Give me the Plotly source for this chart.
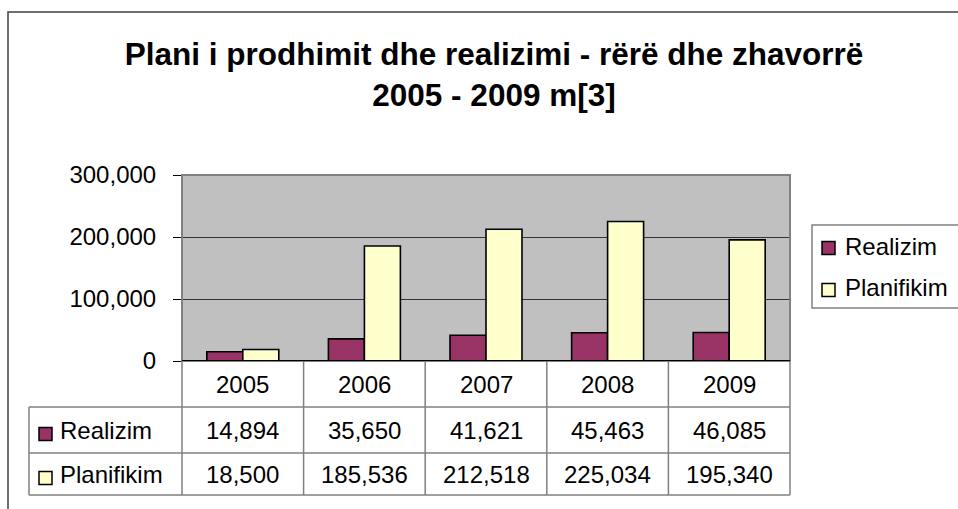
import plotly.graph_objects as go

W, H = 958, 509

categories = ["2005", "2006", "2007", "2008", "2009"]
series_names = ["Realizim", "Planifikim"]
realizim = [14894, 35650, 41621, 45463, 46085]
planifikim = [18500, 185536, 212518, 225034, 195340]
series_values = [realizim, planifikim]
series_colors = ["#993366", "#FFFFCC"]
y_ticks = [0, 100000, 200000, 300000]

title_lines = ["Plani i prodhimit dhe realizimi - rërë dhe zhavorrë", "2005 - 2009 m[3]"]

FONT = "Arial, Liberation Sans, sans-serif"
FS = 24


def px(x):
    return x / W


def py(y):
    return 1 - y / H


# plot area in pixels
PL, PR, PT, PB = 182, 790, 175, 361
# table rows (pixel y)
ROW_Y = [361, 407, 453, 495]
TABLE_LEFT = 29

fig = go.Figure()
for name, vals, col in zip(series_names, series_values, series_colors):
    fig.add_trace(go.Bar(
        x=categories, y=vals, name=name, showlegend=False,
        marker=dict(color=col, line=dict(color="black", width=1.6)),
        hoverinfo="x+y+name",
    ))

shapes = []
annotations = []

# plot area border
shapes.append(dict(type="rect", xref="x domain", yref="y domain", x0=0, x1=1, y0=0, y1=1,
                   line=dict(color="#808080", width=2), layer="above"))
# zero (category) axis line
shapes.append(dict(type="line", xref="x domain", yref="y", x0=0, x1=1, y0=0, y1=0,
                   line=dict(color="black", width=2), layer="above"))

table_line = dict(color="#808080", width=1.5)
for yy in ROW_Y[1:]:
    shapes.append(dict(type="line", xref="paper", yref="paper", x0=px(TABLE_LEFT), x1=px(PR),
                       y0=py(yy), y1=py(yy), line=table_line))
n = len(categories)
for k in range(n + 1):
    if k == 0 or k == n:
        shapes.append(dict(type="line", xref="x domain", yref="paper", x0=k / n, x1=k / n,
                           y0=py(ROW_Y[0]), y1=py(ROW_Y[-1]), line=table_line))
    else:
        shapes.append(dict(type="line", xref="x", yref="paper", x0=k - 0.5, x1=k - 0.5,
                           y0=py(ROW_Y[0]), y1=py(ROW_Y[-1]), line=table_line))
shapes.append(dict(type="line", xref="paper", yref="paper", x0=px(TABLE_LEFT), x1=px(TABLE_LEFT),
                   y0=py(ROW_Y[1]), y1=py(ROW_Y[-1]), line=table_line))

for i, c in enumerate(categories):
    annotations.append(dict(xref="x", yref="paper", x=i, y=py((ROW_Y[0] + ROW_Y[1]) / 2),
                            text=c, showarrow=False, font=dict(family=FONT, size=FS, color="black"),
                            xanchor="center", yanchor="middle"))
for r, (name, vals, col) in enumerate(zip(series_names, series_values, series_colors)):
    yc = (ROW_Y[r + 1] + ROW_Y[r + 2]) / 2
    for i, v in enumerate(vals):
        annotations.append(dict(xref="x", yref="paper", x=i, y=py(yc), text=f"{v:,}",
                                showarrow=False, font=dict(family=FONT, size=FS, color="black"),
                                xanchor="center", yanchor="middle"))
    shapes.append(dict(type="rect", xref="paper", yref="paper", x0=px(39), x1=px(52),
                       y0=py(yc + 4 - 6.5), y1=py(yc + 4 + 6.5), fillcolor=col,
                       line=dict(color="black", width=1.5)))
    annotations.append(dict(xref="paper", yref="paper", x=px(58), y=py(yc), text=name,
                            showarrow=False, font=dict(family=FONT, size=FS, color="black"),
                            xanchor="left", yanchor="middle"))

# legend (box, keys, labels)
LEG_L, LEG_T, LEG_B = 812, 225, 308
shapes.append(dict(type="rect", xref="paper", yref="paper", x0=px(LEG_L), x1=px(975),
                   y0=py(LEG_B), y1=py(LEG_T), fillcolor="white",
                   line=dict(color="#808080", width=1.5)))
leg_text_y = [246, 287]
leg_key_y = [248, 290]
for name, col, ty, ky in zip(series_names, series_colors, leg_text_y, leg_key_y):
    shapes.append(dict(type="rect", xref="paper", yref="paper", x0=px(822), x1=px(835),
                       y0=py(ky + 6.5), y1=py(ky - 6.5), fillcolor=col,
                       line=dict(color="black", width=1.5)))
    annotations.append(dict(xref="paper", yref="paper", x=px(843), y=py(ty), text=name,
                            showarrow=False, font=dict(family=FONT, size=FS, color="black"),
                            xanchor="left", yanchor="middle"))

# outer chart border (left and top edges visible)
shapes.append(dict(type="path", xref="paper", yref="paper",
                   path=f"M {px(8)},{py(520)} L {px(8)},{py(12)} L {px(970)},{py(12)}",
                   line=dict(color="#404040", width=1.5)))

fig.update_layout(
    width=W, height=H,
    autosize=False,
    showlegend=False,
    margin=dict(l=0, r=0, t=0, b=0, pad=0, autoexpand=False),
    paper_bgcolor="white",
    plot_bgcolor="#C0C0C0",
    font=dict(family=FONT, size=FS, color="black"),
    title=dict(text="<b>" + title_lines[0] + "<br>" + title_lines[1] + "</b>",
               x=px(494), xanchor="center", y=py(65), yanchor="middle", yref="paper",
               font=dict(family=FONT, size=31.5, color="black")),
    barmode="group",
    bargap=0.408,
    bargroupgap=0,
    xaxis=dict(domain=[px(PL), px(PR)], range=[-0.5, 4.5], type="category",
               showticklabels=False, showgrid=False, zeroline=False, ticks="",
               fixedrange=True),
    yaxis=dict(domain=[py(PB), py(PT)], range=[0, 300000], tickvals=y_ticks,
               tickformat=",d", ticks="outside", ticklen=8, tickcolor="black", tickwidth=1,
               ticklabelstandoff=12,
               showgrid=True, gridcolor="#333333", gridwidth=1, zeroline=False,
               showline=False, tickfont=dict(family=FONT, size=FS, color="black"),
               fixedrange=True),
    shapes=shapes,
    annotations=annotations,
)

fig.write_html("out.html", config={"responsive": False, "displayModeBar": False},
               post_script="document.body.style.margin='0';document.body.style.overflow='hidden';")
